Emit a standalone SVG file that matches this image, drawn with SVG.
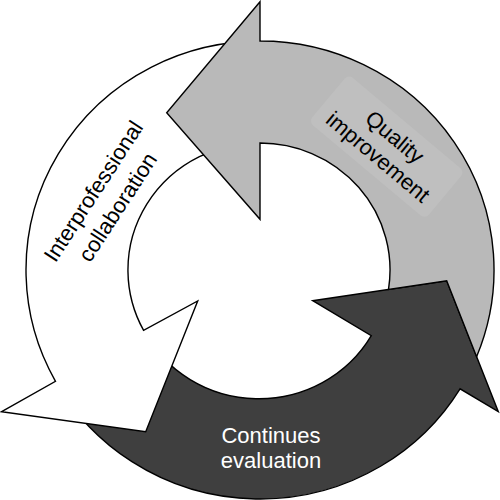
<svg xmlns="http://www.w3.org/2000/svg" width="500" height="500" viewBox="0 0 500 500">
<style>
.arrow{stroke:#000;stroke-width:1.4;stroke-linejoin:miter}
.lbl{font-family:"Liberation Sans",Arial,sans-serif;font-size:22px;text-anchor:middle}
</style>
<rect width="500" height="500" fill="#fff"/>
<g id="continues-evaluation">
<path class="arrow" fill="#3f3f3f" d="M143.6,330.4 L55.5,381.3 A234,229 0 0 0 460.05,388.8 L498.3,411.7 L446.7,280.7 L312.7,300.7 L371.3,335.7 A130,127 0 0 1 143.6,330.4 Z"/>
<text class="lbl" fill="#fff" x="271" y="443">Continues</text>
<text class="lbl" fill="#fff" x="271" y="468">evaluation</text>
</g>
<g id="interprofessional-collaboration">
<path class="arrow" fill="#fff" d="M260,41 A234,229 0 0 0 55.5,381.3 L1.7,411.7 L145.7,431.7 L197.7,301 L143.6,330.4 A130,127 0 0 1 260,143 Z"/>
<g transform="translate(99.7,195.4) rotate(-57)">
<text class="lbl" fill="#000" x="0" y="0">Interprofessional</text>
<text class="lbl" fill="#000" x="0" y="29">collaboration</text>
</g>
</g>
<g id="quality-improvement">
<path class="arrow" fill="#b9b9b9" d="M260,1.7 L166.7,112.7 L260,219.3 L260,143 A130,127 0 0 1 388.5,289.4 L446.7,280.7 L476.6,356.7 A234,229 0 0 0 260,41 Z"/>
<g transform="translate(389.9,142.8) rotate(40)">
<rect x="-76" y="-26" width="152" height="62" rx="6" fill="#bfbfbf"/>
<text class="lbl" fill="#000" x="0" y="0">Quality</text>
<text class="lbl" fill="#000" x="0" y="26">improvement</text>
</g>
</g>
</svg>
